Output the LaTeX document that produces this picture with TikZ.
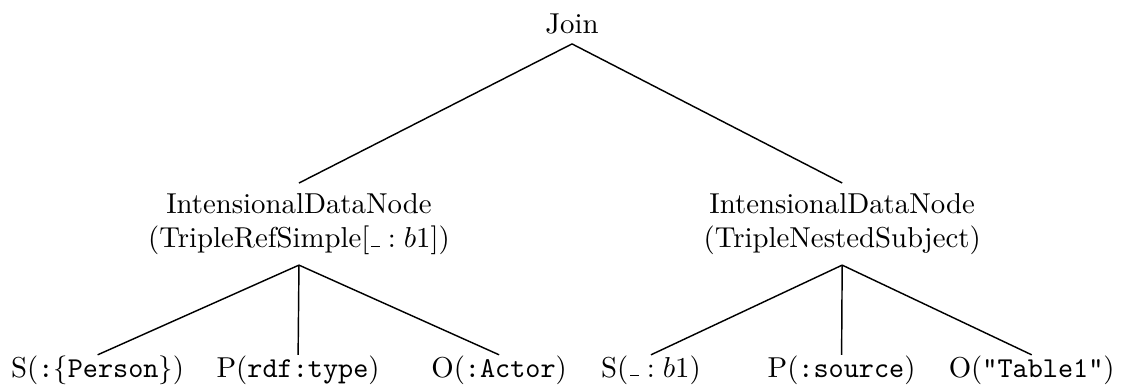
\documentclass[tikz,border=0pt]{standalone}
% narrow underscore, as a short rule set near the baseline
\newcommand{\blankus}{\kern.06em\rule[0.3pt]{0.3em}{0.4pt}}
\begin{document}
\begin{tikzpicture}[
  x=1pt, y=1pt,
  treenode/.style={inner sep=3.33pt},
  midnode/.style={treenode, align=center, anchor=center},
  leafnode/.style={inner xsep=3.33pt, inner ysep=0pt, anchor=base},
  edge/.style={draw=black, line width=0.5pt}
]
\useasboundingbox (0,0) rectangle (389.2,-135.4);

% root
\node[treenode, anchor=base] (join) at (198.6,-11.5) {Join};

% intermediate data nodes
\node[midnode] (idnL) at (103.8,-77.8) {IntensionalDataNode\\(TripleRefSimple[$\mbox{\blankus}:b1$])};
\node[midnode] (idnR) at (292.4,-77.8) {IntensionalDataNode\\(TripleNestedSubject)};

% leaves
\node[leafnode] (sL) at (33.9,-130.9)  {S(\texttt{:}$\{$\texttt{Person}$\}$)};
\node[leafnode] (pL) at (103.5,-130.9) {P(\texttt{rdf:type})};
\node[leafnode] (oL) at (173.3,-130.9) {O(\texttt{:Actor})};
\node[leafnode] (sR) at (226.0,-130.9) {S($\mbox{\blankus}:b1$)};
\node[leafnode] (pR) at (292.2,-130.9) {P(\texttt{:source})};
\node[leafnode] (oR) at (358.2,-130.9) {O(\texttt{"Table1"})};

% edges
\draw[edge] (join.south) -- (idnL.north);
\draw[edge] (join.south) -- (idnR.north);
\draw[edge] (idnL.south) -- (sL.north);
\draw[edge] (idnL.south) -- (pL.north);
\draw[edge] (idnL.south) -- (oL.north);
\draw[edge] (idnR.south) -- (sR.north);
\draw[edge] (idnR.south) -- (pR.north);
\draw[edge] (idnR.south) -- (oR.north);
\end{tikzpicture}
\end{document}
